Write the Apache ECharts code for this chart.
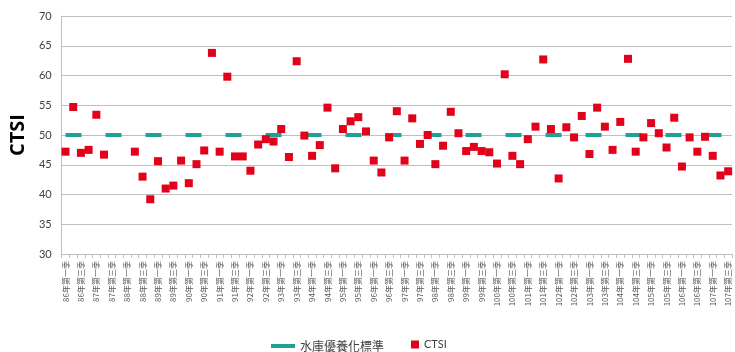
<!DOCTYPE html>
<html>
<head>
<meta charset="utf-8">
<script src="https://cdn.jsdelivr.net/npm/echarts@6/dist/echarts.min.js"></script>
<style>
html,body{margin:0;padding:0;background:#fff;}
#chart{width:735px;height:352px;}
</style>
</head>
<body>
<div id="chart"></div>
<script>
// Categories: 86年第一季 ... 107年第三季 (quarterly)
const years = [86,87,88,89,90,91,92,93,94,95,96,97,98,99,100,101,102,103,104,105,106,107];
const quarters = ['第一季','第二季','第三季','第四季'];
const lastQuarterCount = 3; // 107年 ends at 第三季
const categories = [];
years.forEach((y, yi) => {
  const n = (yi === years.length - 1) ? lastQuarterCount : quarters.length;
  for (let q = 0; q < n; q++) categories.push(y + '年' + quarters[q]);
});

// 水庫優養化標準 (CTSI = 50)
const standard = [
  50,50,50,50,50,50,50,50,50,50,50,50,50,50,50,50,50,50,50,50,
  50,50,50,50,50,50,50,50,50,50,50,50,50,50,50,50,50,50,50,50,
  50,50,50,50,50,50,50,50,50,50,50,50,50,50,50,50,50,50,50,50,
  50,50,50,50,50,50,50,50,50,50,50,50,50,50,50,50,50,50,50,50,
  50,50,50,50,50,50,50
];

// CTSI values
const ctsi = [
  47.2, 54.7, 47.0, 47.5, 53.4, 46.7, null, null, null, 47.2,
  43.0, 39.2, 45.6, 41.0, 41.5, 45.7, 41.9, 45.1, 47.4, 63.8,
  47.2, 59.8, 46.4, 46.4, 44.0, 48.4, 49.3, 48.9, 51.0, 46.3,
  62.4, 49.9, 46.5, 48.3, 54.6, 44.4, 51.0, 52.3, 53.0, 50.6,
  45.7, 43.7, 49.6, 54.0, 45.7, 52.8, 48.5, 50.0, 45.1, 48.2,
  53.9, 50.3, 47.3, 48.0, 47.3, 47.1, 45.2, 60.2, 46.5, 45.1,
  49.3, 51.4, 62.7, 51.0, 42.7, 51.3, 49.6, 53.2, 46.8, 54.6,
  51.4, 47.5, 52.2, 62.8, 47.2, 49.6, 52.0, 50.3, 47.9, 52.9,
  44.7, 49.6, 47.2, 49.7, 46.5, 43.2, 43.9
];

const yTicks = { min: 30, max: 70, interval: 5 };
const fontLatin = "Lato, 'Noto Sans CJK TC', sans-serif";
const fontCJK = "'Noto Sans CJK TC', Lato, sans-serif";

const chart = echarts.init(document.getElementById('chart'), null, { renderer: 'canvas' });
chart.setOption({
  animation: false,
  backgroundColor: '#ffffff',
  grid: { left: 57, right: 3, top: 16, bottom: 98, containLabel: false },
  legend: [
    {
      data: [{ name: '水庫優養化標準', icon: 'rect' }],
      left: 266, top: 335,
      itemWidth: 24, itemHeight: 4,
      itemGap: 10,
      textStyle: { fontSize: 12, color: '#404040', fontFamily: fontCJK }
    },
    {
      data: [{ name: 'CTSI', icon: 'rect' }],
      left: 406, top: 334,
      itemWidth: 8, itemHeight: 8,
      textStyle: { fontSize: 11, color: '#404040', fontFamily: fontLatin }
    }
  ],
  xAxis: {
    type: 'category',
    data: categories,
    boundaryGap: true,
    axisLine: { show: true, lineStyle: { color: '#bfbfbf', width: 1 } },
    axisTick: { show: true, interval: 0, length: 4, lineStyle: { color: '#bfbfbf' } },
    axisLabel: {
      interval: 1,
      rotate: 90,
      fontSize: 8,
      margin: 7,
      color: '#595959',
      fontFamily: fontCJK
    },
    splitLine: { show: false }
  },
  yAxis: {
    type: 'value',
    min: yTicks.min, max: yTicks.max, interval: yTicks.interval,
    name: 'CTSI',
    nameLocation: 'middle',
    nameGap: 28,
    nameRotate: 90,
    nameTextStyle: { fontSize: 20, fontWeight: 'bold', color: '#000', fontFamily: "'Open Sans', Lato, sans-serif" },
    axisLine: { show: true, lineStyle: { color: '#bfbfbf', width: 1 } },
    axisTick: { show: false },
    axisLabel: { fontSize: 11, color: '#404040', margin: 10, fontFamily: fontLatin },
    splitLine: { show: true, lineStyle: { color: '#bfbfbf', width: 1 } }
  },
  series: [
    {
      name: '水庫優養化標準',
      type: 'line',
      data: standard,
      symbol: 'none',
      color: '#1fa195',
      lineStyle: { color: '#1fa195', width: 4, type: [16, 24] },
      z: 2
    },
    {
      name: 'CTSI',
      type: 'scatter',
      data: ctsi,
      symbol: 'rect',
      symbolSize: 8,
      color: '#e2001a',
      itemStyle: { color: '#e2001a', opacity: 1 },
      z: 3
    }
  ]
});
</script>
</body>
</html>
